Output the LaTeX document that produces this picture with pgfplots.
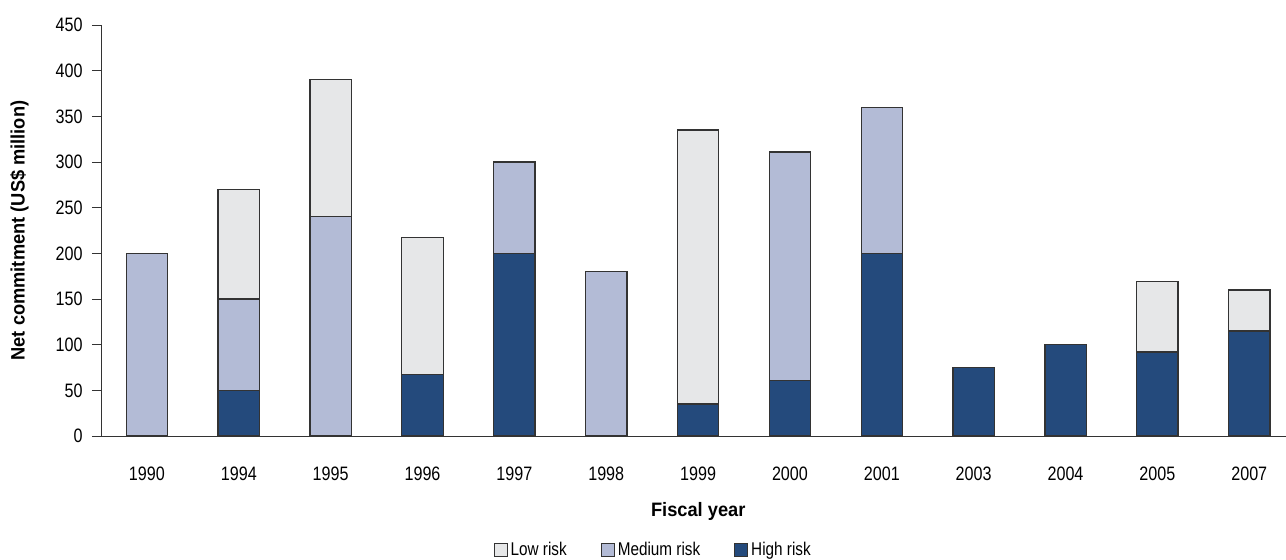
\documentclass[border=0pt]{standalone}
\usepackage{pgfplots}
\pgfplotsset{compat=1.18}
\usepackage{fontspec}
\setmainfont{Liberation Sans}[FakeStretch=0.83, BoldFeatures={FakeStretch=0.94}]
\definecolor{hi}{HTML}{244A7C}
\definecolor{med}{HTML}{B3BBD6}
\definecolor{lo}{HTML}{E6E7E8}
\definecolor{edge}{HTML}{333333}
\begin{document}
\begin{tikzpicture}
\path[use as bounding box] (-101bp,-124bp) rectangle (1185bp,436bp);
\begin{axis}[
  at={(0,0)}, anchor=south west,
  scale only axis, width=1185bp, height=411bp,
  ybar stacked, bar width=0.45,
  xmin=-0.5, xmax=12.4, ymin=0, ymax=450,
  axis x line=bottom, axis y line=left,
  axis line style={-, draw=edge, line width=1pt},
  xtick={0,...,12},
  xticklabels={1990,1994,1995,1996,1997,1998,1999,2000,2001,2003,2004,2005,2007},
  x tick style={draw=none},
  extra x ticks={-0.5,0.5,...,11.5},
  extra x tick labels={},
  extra x tick style={major tick length=10bp, tick align=outside, tick style={draw=edge, line width=1pt}},
  ytick={0,50,...,450},
  y tick style={draw=edge, line width=1pt},
  major tick length=9bp, tick align=outside,
  tick label style={font=\fontsize{19.5}{21}\selectfont},
  /pgf/number format/assume math mode=true,
  xticklabel style={anchor=center, at={(axis cs:\tick,0)}, yshift=-29bp},
  yticklabel style={xshift=-6bp},
  xlabel={\textbf{Fiscal year}},
  xlabel style={font=\fontsize{19.5}{21}\selectfont, at={(axis description cs:0.504,0)}, anchor=center, yshift=-75bp},
  ylabel={\textbf{Net commitment (US\$ million)}},
  ylabel style={font=\fontsize{19.5}{21}\selectfont, at={(axis description cs:-0.0688,0.5)}, anchor=center},
  reverse legend,
  legend columns=3,
  legend style={draw=none, fill=none, at={(axis description cs:0.466,0)}, anchor=center, yshift=-114bp,
    font=\fontsize{18.5}{20}\selectfont, inner sep=0pt,
    /tikz/every even column/.append style={column sep=32bp},
    /tikz/every odd column/.append style={column sep=1bp}},
  legend image code/.code={\draw[#1, line width=1pt] (0bp,-6.5bp) rectangle (13bp,6.5bp);},
]
\addplot[fill=hi, draw=edge, line width=1.3pt] coordinates {(0,0) (1,50) (2,0) (3,67) (4,200) (5,0) (6,35) (7,61) (8,200) (9,75) (10,100) (11,92) (12,115)};
\addplot[fill=med, draw=edge, line width=1.3pt] coordinates {(0,200) (1,100) (2,240) (3,0) (4,100) (5,180) (6,0) (7,250) (8,160) (9,0) (10,0) (11,0) (12,0)};
\addplot[fill=lo, draw=edge, line width=1.3pt] coordinates {(0,0) (1,120) (2,150) (3,150) (4,0) (5,0) (6,300) (7,0) (8,0) (9,0) (10,0) (11,77) (12,45)};
\legend{High risk, Medium risk, Low risk}
\end{axis}
\end{tikzpicture}
\end{document}
